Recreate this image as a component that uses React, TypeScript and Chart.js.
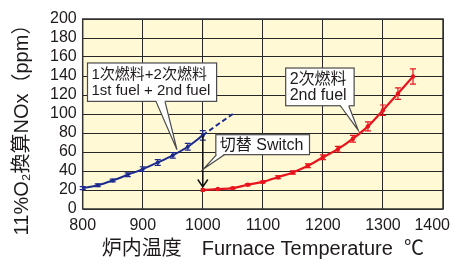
import React, { useEffect, useRef } from "react";
import { Chart, registerables } from "chart.js";

Chart.register(...registerables);

// ---- data ----
const xTickLabels = [800, 900, 1000, 1100, 1200, 1300, 1400];
const blueTemps = [800, 825, 850, 875, 900, 925, 950, 975, 1000];
const blueNOx = [22, 25, 30, 36, 42, 49, 56.5, 65.5, 77.5];
const blueErr = [1.5, 1.5, 1.5, 2, 2.5, 3, 3, 3.5, 5];
const blueExtTemps = [1000, 1025, 1050];
const blueExtNOx = [77.5, 89, 100];
const redTemps = [1000, 1025, 1050, 1075, 1100, 1125, 1150, 1175, 1200, 1225, 1250, 1275, 1300, 1325, 1350];
const redNOx = [20, 21, 22, 25.5, 28.5, 33.5, 38.5, 45.5, 54.5, 63, 74, 87, 104, 121.5, 139.5];
const redErr = [0, 0.6, 0.8, 1, 1, 1.5, 1.7, 2, 2.5, 3, 3.5, 4.7, 5.5, 6, 8];
const switchTemp = 1000;

const xTitle = "炉内温度\u3000Furnace Temperature  ℃";
const yTitle = "11%O₂換算NOx（ppm）";

const callouts = [
  { lines: ["1次燃料+2次燃料", "1st fuel + 2nd fuel"], box: [808, 153.7, 1023, 113.3], base: [922, 937], tip: [957, 62.4], font: 15 },
  { lines: ["2次燃料", "2nd fuel"], box: [1138, 148.4, 1252, 108.7], base: [1229, 1243], tip: [1259, 82.7], font: 16 },
  { lines: ["切替 Switch"], box: [1021.7, 78.2, 1177.7, 57.2], base: [1023, 1036], tip: [1001, 42.1], font: 16 },
];

const FONT = '"Liberation Sans", "Noto Sans CJK JP", sans-serif';
const TEXT = "#1e1a1b";
const BLUE = "#1d2b8f";
const RED = "#e8141e";

const toXY = (xs: number[], ys: number[]) => xs.map((x, i) => ({ x, y: ys[i] }));

const decorPlugin = {
  id: "decor",
  beforeDraw(chart: any) {
    const { ctx, chartArea: a } = chart;
    ctx.save();
    ctx.fillStyle = "#fff9d5";
    ctx.fillRect(a.left, a.top, a.right - a.left, a.bottom - a.top);
    ctx.restore();
  },
  afterDatasetsDraw(chart: any) {
    const { ctx, chartArea: a, width } = chart;
    const xs = chart.scales.x;
    const ys = chart.scales.y;
    ctx.save();
    // frame
    ctx.strokeStyle = "#333";
    ctx.lineWidth = 1.5;
    ctx.strokeRect(a.left, a.top, a.right - a.left, a.bottom - a.top);

    // error bars
    const drawErr = (tx: number[], vy: number[], err: number[], color: string) => {
      ctx.strokeStyle = color;
      ctx.lineWidth = 1.2;
      tx.forEach((t, i) => {
        if (!err[i]) return;
        const px = xs.getPixelForValue(t);
        const y1 = ys.getPixelForValue(vy[i] + err[i]);
        const y2 = ys.getPixelForValue(vy[i] - err[i]);
        ctx.beginPath();
        ctx.moveTo(px, y1);
        ctx.lineTo(px, y2);
        ctx.moveTo(px - 3, y1);
        ctx.lineTo(px + 3, y1);
        ctx.moveTo(px - 3, y2);
        ctx.lineTo(px + 3, y2);
        ctx.stroke();
      });
    };
    drawErr(blueTemps, blueNOx, blueErr, BLUE);
    drawErr(redTemps, redNOx, redErr, RED);

    // switch arrow
    const ax = xs.getPixelForValue(switchTemp);
    const ay1 = ys.getPixelForValue(blueNOx[blueNOx.length - 1]);
    const ay2 = ys.getPixelForValue(redNOx[0]) - 3;
    ctx.strokeStyle = "#111";
    ctx.lineWidth = 1.5;
    ctx.beginPath();
    ctx.moveTo(ax, ay1);
    ctx.lineTo(ax, ay2);
    ctx.moveTo(ax - 5, ay2 - 7.5);
    ctx.lineTo(ax, ay2);
    ctx.lineTo(ax + 5, ay2 - 7.5);
    ctx.stroke();

    // callouts
    callouts.forEach((c) => {
      const l = xs.getPixelForValue(c.box[0]);
      const t = ys.getPixelForValue(c.box[1]);
      const r = xs.getPixelForValue(c.box[2]);
      const b = ys.getPixelForValue(c.box[3]);
      const b1 = xs.getPixelForValue(c.base[0]);
      const b2 = xs.getPixelForValue(c.base[1]);
      const tx = xs.getPixelForValue(c.tip[0]);
      const ty = ys.getPixelForValue(c.tip[1]);
      ctx.fillStyle = "#fff";
      ctx.strokeStyle = "#4a4a4a";
      ctx.lineWidth = 1.2;
      ctx.fillRect(l, t, r - l, b - t);
      ctx.strokeRect(l, t, r - l, b - t);
      ctx.beginPath();
      ctx.moveTo(b1, b - 1);
      ctx.lineTo(tx, ty);
      ctx.lineTo(b2, b - 1);
      ctx.closePath();
      ctx.fill();
      ctx.beginPath();
      ctx.moveTo(b1, b);
      ctx.lineTo(tx, ty);
      ctx.lineTo(b2, b);
      ctx.stroke();
      ctx.fillStyle = TEXT;
      ctx.font = `${c.font}px ${FONT}`;
      ctx.textAlign = "left";
      ctx.textBaseline = "middle";
      const pad = 3;
      const n = c.lines.length;
      c.lines.forEach((s, i) => {
        const cy = t + pad + ((b - t - 2 * pad) * (i + 0.5)) / n;
        ctx.fillText(s, l + 4, cy + 0.5);
      });
    });

    // x tick labels
    ctx.fillStyle = TEXT;
    ctx.font = `16px ${FONT}`;
    ctx.textAlign = "center";
    ctx.textBaseline = "middle";
    xTickLabels.forEach((v) => {
      const s = String(v);
      const w = ctx.measureText(s).width;
      let px = xs.getPixelForValue(v);
      px = Math.min(px, width - 4 - w / 2);
      ctx.fillText(s, px, a.bottom + 17);
    });

    // axis titles
    ctx.font = `20px ${FONT}`;
    ctx.fillText(xTitle, (a.left + a.right) / 2, a.bottom + 40);
    ctx.save();
    ctx.translate(22, (a.top + a.bottom) / 2 + 11);
    ctx.rotate(-Math.PI / 2);
    ctx.fillText(yTitle, 0, 0);
    ctx.restore();
    ctx.restore();
  },
};

export default function App() {
  const ref = useRef<HTMLCanvasElement>(null);
  useEffect(() => {
    document.body.style.margin = "0";
    const chart = new Chart(ref.current!, {
      type: "line",
      data: {
        datasets: [
          {
            data: toXY(blueExtTemps, blueExtNOx),
            borderColor: BLUE,
            borderWidth: 2,
            borderDash: [5, 3],
            pointRadius: 0,
            tension: 0.4,
            cubicInterpolationMode: "monotone",
          },
          {
            data: toXY(blueTemps, blueNOx),
            borderColor: BLUE,
            backgroundColor: BLUE,
            borderWidth: 2,
            pointRadius: 2,
            pointBorderWidth: 0,
            tension: 0.4,
            cubicInterpolationMode: "monotone",
          },
          {
            data: toXY(redTemps, redNOx),
            borderColor: RED,
            backgroundColor: RED,
            borderWidth: 2.2,
            pointRadius: (c: any) => (c.dataIndex === 0 ? 3 : 2.2),
            pointStyle: (c: any) => (c.dataIndex === 0 ? "rect" : "circle"),
            pointBorderWidth: 0,
            tension: 0.4,
            cubicInterpolationMode: "monotone",
          },
        ],
      },
      plugins: [decorPlugin],
      options: {
        animation: false,
        responsive: true,
        maintainAspectRatio: false,
        layout: { padding: { top: 19, right: 11, bottom: 0, left: 0 } },
        plugins: { legend: { display: false }, tooltip: { enabled: false } },
        scales: {
          x: {
            type: "linear",
            min: 800,
            max: 1400,
            ticks: { display: false, stepSize: 100 },
            grid: { color: "#262626", lineWidth: 1, drawTicks: false },
            border: { display: false },
            afterFit: (s: any) => {
              s.height = 51;
              s.paddingLeft = 0;
              s.paddingRight = 0;
            },
          },
          y: {
            min: 0,
            max: 200,
            ticks: { stepSize: 20, autoSkip: false, padding: 6, color: TEXT, font: { size: 16, family: FONT } },
            grid: { color: "#262626", lineWidth: 1, drawTicks: false },
            border: { display: false },
            afterFit: (s: any) => {
              s.width = 82.7;
              s.paddingTop = 0;
              s.paddingBottom = 0;
            },
          },
        },
      },
    } as any);
    return () => chart.destroy();
  }, []);
  return (
    <div style={{ width: 454, height: 260, position: "relative" }}>
      <canvas ref={ref} />
    </div>
  );
}
